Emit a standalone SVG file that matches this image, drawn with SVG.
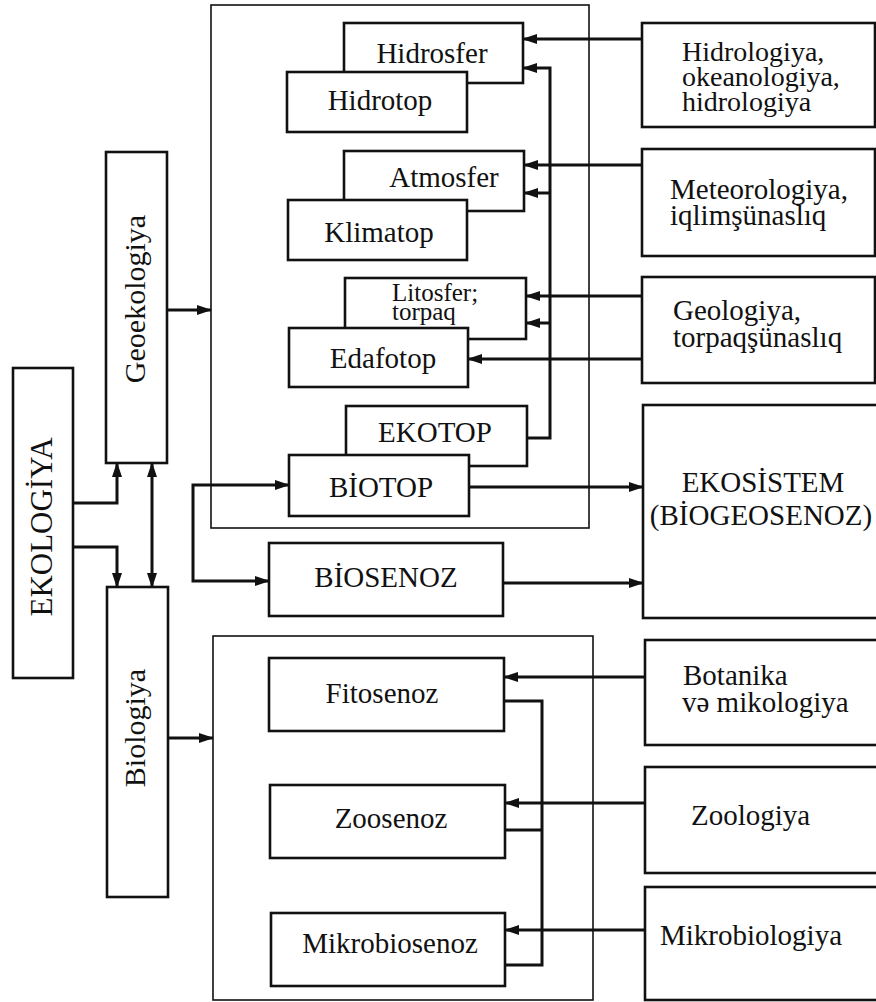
<svg xmlns="http://www.w3.org/2000/svg" width="876" height="1002" viewBox="0 0 876 1002">
<style>
.bx{fill:#fff;stroke:#111;stroke-width:2.6}
.cn{fill:none;stroke:#111;stroke-width:1.6}
text{font-family:"Liberation Serif","DejaVu Serif",serif;fill:#111}
.t{font-size:29px}
.s25{font-size:25px}
.s28{font-size:28px}
.s30{font-size:30px}
.s31{font-size:31px}
.m{text-anchor:middle}
.w{fill:none;stroke:#111;stroke-width:3}
.ar{marker-end:url(#ah)}
</style>
<defs>
<marker id="ah" markerUnits="userSpaceOnUse" markerWidth="15" markerHeight="10" refX="14" refY="5" orient="auto-start-reverse">
<path d="M0,0 L15,5 L0,10 z" fill="#111"/>
</marker>
</defs>
<rect width="876" height="1002" fill="#fff"/>

<g id="container-top"><rect class="cn" x="211" y="5" width="378" height="523"/></g>
<g id="container-bottom"><rect class="cn" x="213" y="636" width="380" height="364"/></g>

<g id="ekologiya"><rect class="bx" x="13" y="368" width="60" height="310"/><text class="s31 m" transform="translate(52,527) rotate(-90)">EKOLOGİYA</text></g>
<g id="geoekologiya"><rect class="bx" x="106" y="152" width="61" height="311"/><text class="s30 m" transform="translate(145,299) rotate(-90)">Geoekologiya</text></g>
<g id="biologiya"><rect class="bx" x="107" y="587" width="61" height="310"/><text class="s30 m" transform="translate(145,728) rotate(-90)">Biologiya</text></g>

<g id="hidrosfer"><rect class="bx" x="344" y="23" width="179" height="60"/><text class="t m" x="432" y="63">Hidrosfer</text></g>
<g id="hidrotop"><rect class="bx" x="287" y="72" width="180" height="60"/><text class="t m" x="380" y="110">Hidrotop</text></g>
<g id="atmosfer"><rect class="bx" x="344" y="151" width="180" height="60"/><text class="t m" x="444" y="187">Atmosfer</text></g>
<g id="klimatop"><rect class="bx" x="288" y="200" width="179" height="60"/><text class="t m" x="379" y="242">Klimatop</text></g>
<g id="litosfer"><rect class="bx" x="345" y="278" width="181" height="61"/><text class="s25" x="392" y="301">Litosfer;</text><text class="s25" x="392" y="320">torpaq</text></g>
<g id="edafotop"><rect class="bx" x="289" y="328" width="179" height="59"/><text class="t m" x="383" y="368">Edafotop</text></g>
<g id="ekotop"><rect class="bx" x="346" y="406" width="181" height="60"/><text class="t m" x="435" y="442">EKOTOP</text></g>
<g id="biotop"><rect class="bx" x="289" y="455" width="180" height="61"/><text class="t m" x="381" y="497">BİOTOP</text></g>
<g id="biosenoz"><rect class="bx" x="269" y="543" width="234" height="73"/><text class="t m" x="386" y="587">BİOSENOZ</text></g>

<g id="fitosenoz"><rect class="bx" x="269" y="658" width="235" height="73"/><text class="t m" x="382" y="703">Fitosenoz</text></g>
<g id="zoosenoz"><rect class="bx" x="270" y="785" width="235" height="73"/><text class="t m" x="391" y="828">Zoosenoz</text></g>
<g id="mikrobiosenoz"><rect class="bx" x="271" y="913" width="234" height="73"/><text class="t m" x="390" y="953">Mikrobiosenoz</text></g>

<g id="hidrologiya"><rect class="bx" x="642" y="23" width="233" height="104"/><text class="s28" x="682" y="61">Hidrologiya,</text><text class="s28" x="682" y="86">okeanologiya,</text><text class="s28" x="682" y="111">hidrologiya</text></g>
<g id="meteorologiya"><rect class="bx" x="642" y="149" width="233" height="107"/><text class="t" x="670" y="199">Meteorologiya,</text><text class="t" x="670" y="225">iqlimşünaslıq</text></g>
<g id="geologiya"><rect class="bx" x="642" y="277" width="233" height="106"/><text class="t" x="673" y="320">Geologiya,</text><text class="t" x="673" y="347">torpaqşünaslıq</text></g>
<g id="ekosistem"><rect class="bx" x="643" y="405" width="240" height="213"/><text class="t m" x="763" y="492">EKOSİSTEM</text><text class="t m" x="761" y="525">(BİOGEOSENOZ)</text></g>
<g id="botanika"><rect class="bx" x="645" y="640" width="240" height="105"/><text class="t" x="683" y="685">Botanika</text><text class="t" x="682" y="712">və mikologiya</text></g>
<g id="zoologiya"><rect class="bx" x="645" y="767" width="240" height="106"/><text class="t" x="691" y="825">Zoologiya</text></g>
<g id="mikrobiologiya"><rect class="bx" x="645" y="887" width="240" height="113"/><text class="t" x="660" y="945">Mikrobiologiya</text></g>

<g id="connectors">
<path class="w ar" d="M642,39 H523"/>
<path class="w ar" d="M527,438 H550 V68 H523"/>
<path class="w ar" d="M550,193 H524"/>
<path class="w ar" d="M550,323 H526"/>
<path class="w ar" d="M642,165 H524"/>
<path class="w ar" d="M642,296 H526"/>
<path class="w ar" d="M642,359 H468"/>
<path class="w ar" d="M167,310 H211"/>
<path class="w ar" d="M73,503 H117 V463"/>
<path class="w ar" d="M73,547 H117 V587"/>
<path class="w ar" d="M152,463 V587" style="marker-start:url(#ah)"/>
<path class="w ar" d="M289,485 H193 V581 H269" style="marker-start:url(#ah)"/>
<path class="w ar" d="M469,487 H643"/>
<path class="w ar" d="M503,583 H643"/>
<path class="w ar" d="M168,738 H213"/>
<path class="w ar" d="M645,677 H504"/>
<path class="w ar" d="M645,803 H505"/>
<path class="w ar" d="M645,930 H505"/>
<path class="w" d="M504,701 H542 V965 H505"/>
<path class="w" d="M505,830 H542"/>
</g>
</svg>
